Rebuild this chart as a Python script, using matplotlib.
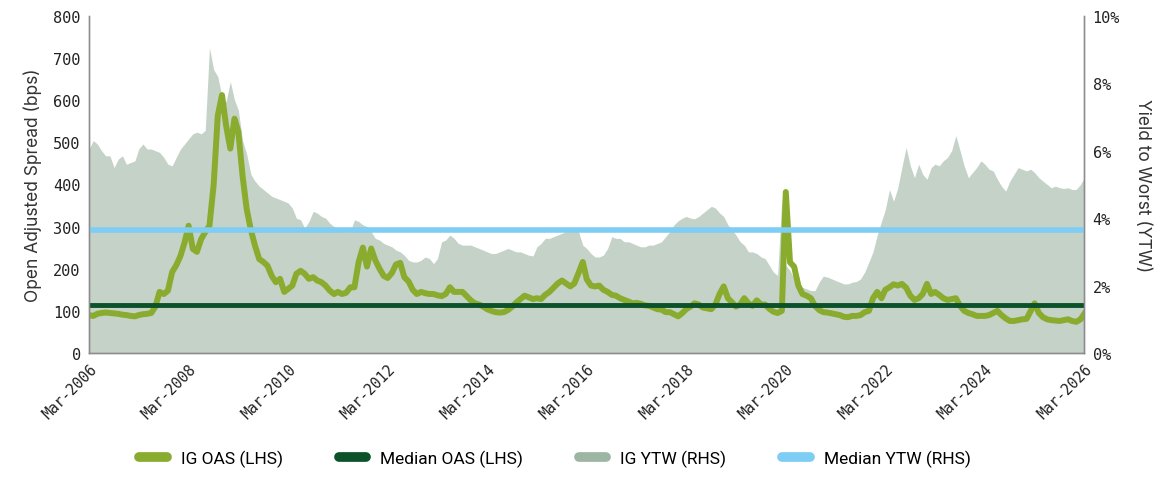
import matplotlib
matplotlib.use("Agg")
import matplotlib.pyplot as plt
import matplotlib.dates as mdates
from matplotlib.lines import Line2D
import pandas as pd

# monthly, Mar-2006 .. Mar-2026
months = pd.date_range("2006-03-01", "2026-03-01", freq="MS")

ig_oas = [
    90, 88, 93, 95, 96, 95, 94, 93, 91, 90, 88, 87,
    90, 92, 93, 95, 110, 145, 140, 148, 192, 208, 230, 263,
    302, 247, 240, 270, 287, 302, 400, 563, 612, 540, 485, 556,
    525, 420, 342, 292, 255, 223, 216, 207, 183, 168, 176, 145,
    152, 160, 188, 195, 188, 176, 180, 172, 168, 160, 148, 140,
    145, 140, 143, 156, 156, 216, 250, 205, 248, 220, 200, 183,
    178, 190, 210, 214, 180, 170, 150, 140, 145, 142, 140, 140,
    137, 135, 140, 156, 145, 145, 145, 135, 125, 118, 115, 110,
    104, 100, 97, 96, 97, 102, 110, 120, 128, 136, 132, 128,
    130, 128, 138, 145, 155, 165, 172, 165, 158, 165, 190, 216,
    175, 160, 158, 160, 150, 145, 138, 136, 130, 126, 122, 118,
    119, 117, 113, 112, 108, 104, 103, 97, 97, 92, 87, 95,
    104, 110, 118, 115, 108, 106, 104, 115, 140, 158, 130, 120,
    110, 115, 130, 118, 112, 125, 115, 115, 105, 98, 95, 100,
    382, 215, 205, 160, 140, 136, 130, 112, 102, 97, 96, 94,
    92, 90, 86, 85, 88, 88, 90, 97, 100, 130, 145, 130,
    150, 156, 163, 160, 164, 155, 136, 126, 130, 140, 164, 140,
    145, 138, 130, 126, 128, 130, 112, 100, 95, 92, 88, 88,
    88, 90, 95, 100, 90, 82, 76, 76, 78, 80, 81, 100,
    118, 95, 85, 80, 78, 77, 76, 78, 80, 76, 74, 80,
    93,
]

ig_ytw = [
    6.05, 6.3, 6.2, 6.0, 5.85, 5.85, 5.5, 5.75, 5.85, 5.6, 5.65, 5.7,
    6.05, 6.2, 6.05, 6.05, 6.0, 5.95, 5.8, 5.6, 5.55, 5.8, 6.05, 6.2,
    6.35, 6.5, 6.55, 6.5, 6.6, 9.05, 8.4, 8.2, 7.6, 7.45, 8.05, 7.5,
    7.2, 6.3, 5.9, 5.3, 5.1, 4.95, 4.85, 4.75, 4.65, 4.6, 4.55, 4.5,
    4.45, 4.3, 4.0, 3.95, 3.7, 3.9, 4.2, 4.15, 4.05, 4.0, 3.85, 3.75,
    3.7, 3.65, 3.6, 3.6, 3.95, 3.9, 3.8, 3.75, 3.6, 3.4, 3.35, 3.25,
    3.2, 3.15, 3.05, 3.0, 2.9, 2.75, 2.7, 2.7, 2.75, 2.85, 2.8, 2.65,
    2.8, 3.3, 3.35, 3.5, 3.4, 3.25, 3.2, 3.2, 3.2, 3.15, 3.1, 3.05,
    3.0, 2.95, 2.95, 3.0, 3.05, 3.1, 3.05, 3.0, 3.0, 2.95, 2.9, 2.88,
    3.15, 3.25, 3.4, 3.4, 3.45, 3.5, 3.55, 3.6, 3.6, 3.65, 3.6, 3.2,
    3.1, 2.95, 2.85, 2.85, 2.9, 3.1, 3.45, 3.4, 3.4, 3.3, 3.3, 3.25,
    3.2, 3.15, 3.15, 3.2, 3.2, 3.25, 3.3, 3.45, 3.6, 3.8, 3.92, 4.0,
    4.05, 4.0, 3.98, 4.05, 4.15, 4.25, 4.35, 4.3, 4.15, 4.05, 3.8, 3.65,
    3.5, 3.3, 3.2, 3.0, 3.0, 2.95, 2.85, 2.8, 2.6, 2.4, 2.3, 4.6,
    2.6, 2.45, 2.2, 2.0, 1.95, 1.9, 1.85, 1.85, 2.1, 2.28, 2.25, 2.2,
    2.15, 2.1, 2.05, 2.05, 2.1, 2.12, 2.2, 2.4, 2.7, 3.0, 3.5, 3.9,
    4.25, 4.85, 4.5, 4.9, 5.5, 6.1, 5.55, 5.2, 5.6, 5.3, 5.15, 5.5,
    5.6, 5.55, 5.7, 5.8, 6.0, 6.45, 6.0, 5.55, 5.2, 5.35, 5.5, 5.7,
    5.6, 5.45, 5.4, 5.15, 4.95, 4.8, 5.1, 5.3, 5.5, 5.45, 5.4, 5.45,
    5.35, 5.2, 5.1, 5.0, 4.9, 4.95, 4.9, 4.88, 4.9, 4.85, 4.85, 5.0,
    5.2,
]

median_oas = 115
median_ytw = 3.65

oas_ticks = [0, 100, 200, 300, 400, 500, 600, 700, 800]
ytw_ticks = [0, 2, 4, 6, 8, 10]
legend_labels = ["IG OAS (LHS)", "Median OAS (LHS)", "IG YTW (RHS)", "Median YTW (RHS)"]

c_oas = "#8aac2e"
c_med_oas = "#0b5129"
c_ytw = "#9db5a3"
c_med_ytw = "#7dcdf4"
mono = "DejaVu Sans Mono"

fig = plt.figure(figsize=(11.56, 4.81), dpi=100)
ax_y = fig.add_axes([0.077, 0.264, 0.861, 0.701])
ax = ax_y.twinx()          # left axis drawn on top of the fill
ax_m = ax_y.twinx()        # median YTW on top of everything

ax.yaxis.tick_left()
ax.yaxis.set_label_position("left")
ax_y.yaxis.tick_right()
ax_y.yaxis.set_label_position("right")

ax_y.fill_between(months, ig_ytw, 0, color=c_ytw, alpha=0.6, linewidth=0)
ax.plot(months, ig_oas, color=c_oas, lw=4.3, solid_joinstyle="round")
ax.axhline(median_oas, color=c_med_oas, lw=3.5)
ax_m.axhline(median_ytw, color=c_med_ytw, lw=4.0)

ax.set_ylim(0, 800)
ax_y.set_ylim(0, 10)
ax_m.set_ylim(0, 10)
ax_y.set_xlim(months[0], months[-1])

ax.set_yticks(oas_ticks)
ax.set_yticklabels([str(t) for t in oas_ticks], fontfamily=mono, fontsize=11)
ax_y.set_yticks(ytw_ticks)
ax_y.set_yticklabels([f"{t}%" for t in ytw_ticks], fontfamily=mono, fontsize=11)
ax_m.set_yticks([])

tick_dates = pd.date_range("2006-03-01", "2026-03-01", freq="24MS")
ax_y.set_xticks(tick_dates)
ax_y.xaxis.set_major_formatter(mdates.DateFormatter("%b-%Y"))
for lab in ax_y.get_xticklabels():
    lab.set_rotation(45)
    lab.set_ha("right")
    lab.set_rotation_mode("anchor")
    lab.set_fontfamily(mono)
    lab.set_fontsize(10.5)

for a in (ax, ax_y, ax_m):
    a.tick_params(length=0, colors="#222222", pad=6)
    a.spines["top"].set_visible(False)
    for s in ("left", "right", "bottom"):
        a.spines[s].set_color("#8c8c8c")
        a.spines[s].set_linewidth(0.9)

ax.set_ylabel("Open Adjusted Spread (bps)", fontfamily="Inter", fontsize=12.5, color="#333333", labelpad=8)
ax_y.set_ylabel("Yield to Worst (YTW)", fontfamily="Inter", fontsize=12.5, color="#333333",
                rotation=270, labelpad=22)

handles = [Line2D([], [], color=c, lw=7, solid_capstyle="round")
           for c in (c_oas, c_med_oas, c_ytw, c_med_ytw)]
fig.legend(handles, legend_labels, loc="lower center", ncol=4, frameon=False,
           bbox_to_anchor=(0.48, -0.005), handlelength=1.6, columnspacing=3.2,
           prop={"family": "Roboto", "size": 12.5})

fig.savefig("out.png", dpi=100)
